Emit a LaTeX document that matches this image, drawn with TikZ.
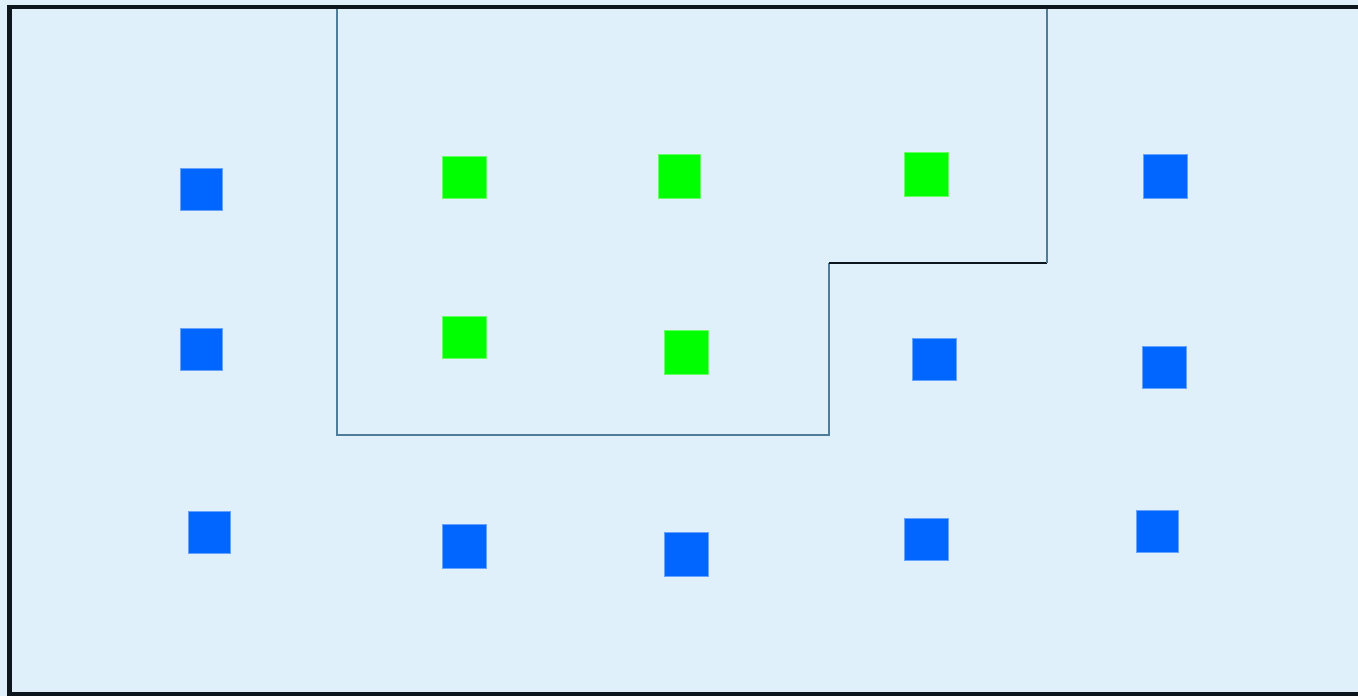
\documentclass[tikz,border=0pt]{standalone}
\begin{document}
\begin{tikzpicture}[x=1pt,y=-1pt,
  sq/.style={rectangle,inner sep=0pt,outer sep=0pt,minimum width=44pt,minimum height=42pt,draw=#1!60!white,line width=0.6pt,fill=#1},
  bluesq/.style={sq=sqblue},
  greensq/.style={sq=sqgreen},
  zone/.style={draw=zoneline,line width=1.5pt},
]
\definecolor{bg}{RGB}{223,240,250}
\definecolor{frame}{RGB}{12,22,28}
\definecolor{zoneline}{RGB}{78,124,153}
\definecolor{sqblue}{RGB}{0,102,255}
\definecolor{sqgreen}{RGB}{0,255,0}
\useasboundingbox (0,0) rectangle (1358,696);
\clip (0,0) rectangle (1358,696);
\fill[bg] (0,0) rectangle (1358,696);
% outer frame (open on the right)
\draw[frame,line width=4.5pt] (1380,7) -- (9.5,7) -- (9.5,694) -- (1380,694);
% zone outline
\coordinate (z1) at (337,9);
\coordinate (z2) at (337,435);
\coordinate (z3) at (829,435);
\coordinate (z4) at (829,263);
\coordinate (z5) at (1047,263);
\coordinate (z6) at (1047,9);
\draw[zone,line join=miter] (z1) -- (z2) -- (z3) -- (z4);
\draw[frame,line width=1.5pt] (z4) -- (z5);
\draw[zone] (z5) -- (z6);
% blue squares
\node[bluesq,minimum width=42pt] (b1) at (201,189) {};
\node[bluesq,minimum width=42pt] (b2) at (201,349) {};
\node[bluesq,minimum width=42pt] (b3) at (209,532) {};
\node[bluesq,minimum height=44pt] (b4) at (464,546) {};
\node[bluesq,minimum height=44pt] (b5) at (686,554) {};
\node[bluesq] (b6) at (926,539) {};
\node[bluesq,minimum width=42pt] (b7) at (1157,531) {};
\node[bluesq,minimum height=44pt] (b8) at (1165,176) {};
\node[bluesq] (b9) at (1164,367) {};
\node[bluesq] (b10) at (934,359) {};
% green squares
\node[greensq] (g1) at (464,177) {};
\node[greensq,minimum width=42pt,minimum height=44pt] (g2) at (679,176) {};
\node[greensq,minimum height=44pt] (g3) at (926,174) {};
\node[greensq] (g4) at (464,337) {};
\node[greensq,minimum height=44pt] (g5) at (686,352) {};
\end{tikzpicture}
\end{document}
